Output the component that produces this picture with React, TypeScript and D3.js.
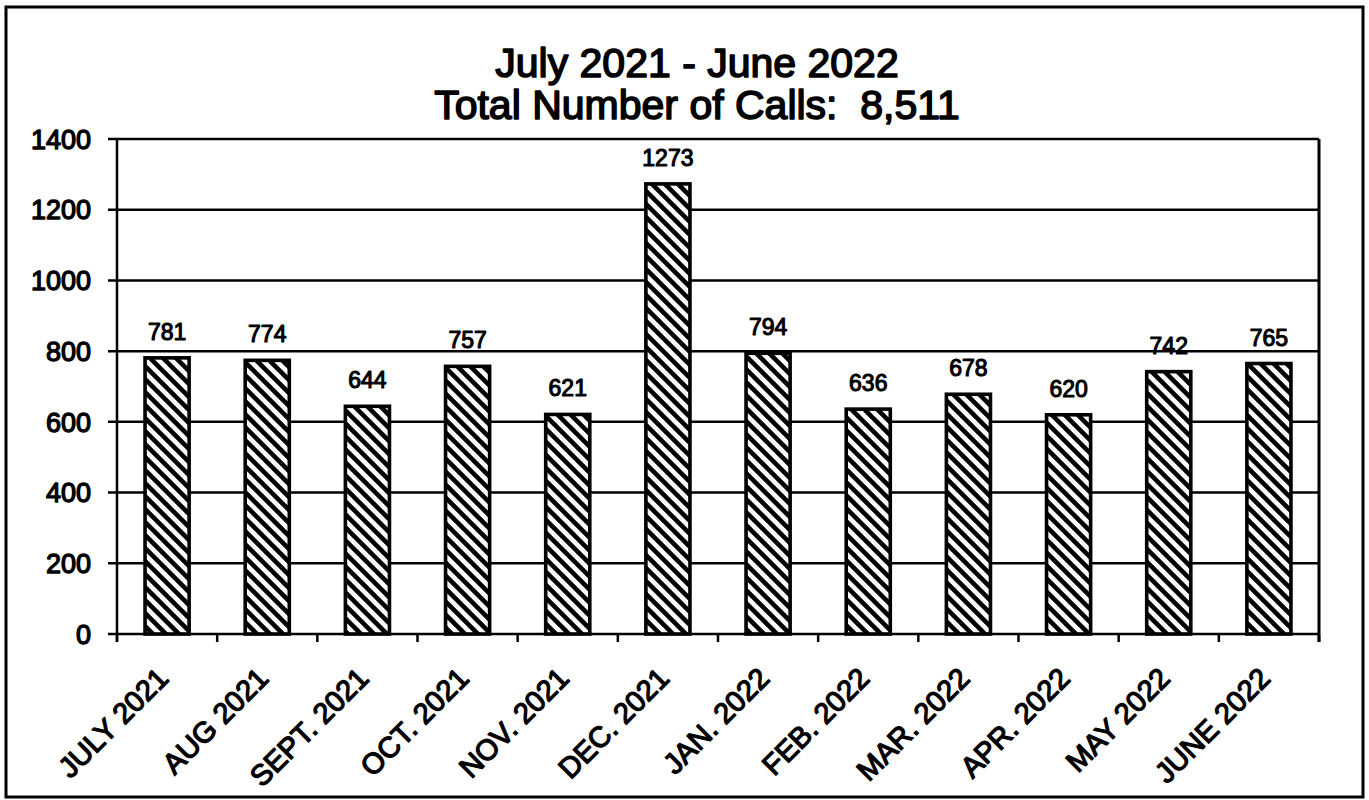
import React from "react";
import * as d3 from "d3";

const categories = [
  "JULY 2021", "AUG 2021", "SEPT. 2021", "OCT. 2021", "NOV. 2021", "DEC. 2021",
  "JAN. 2022", "FEB. 2022", "MAR. 2022", "APR. 2022", "MAY 2022", "JUNE 2022",
];
const values = [781, 774, 644, 757, 621, 1273, 794, 636, 678, 620, 742, 765];
const yTicks = [0, 200, 400, 600, 800, 1000, 1200, 1400];
const titleLines = ["July 2021 - June 2022", "Total Number of Calls:  8,511"];

const W = 1369;
const H = 800;
const plot = { left: 117, right: 1319, top: 139, bottom: 634 };
const FONT = '"Liberation Sans", Arial, Helvetica, sans-serif';

export default function App() {
  const x = d3
    .scaleBand<string>()
    .domain(categories)
    .range([plot.left, plot.right])
    .paddingInner(0.56)
    .paddingOuter(0.28);
  const y = d3.scaleLinear().domain([0, 1400]).range([plot.bottom, plot.top]);

  const boundaries = d3.range(categories.length + 1).map(
    (i) => plot.left + i * ((plot.right - plot.left) / categories.length)
  );

  const textStyle = { fontFamily: FONT, fill: "#000", stroke: "#000", strokeLinejoin: "round" } as const;

  return (
    <svg
      width={W}
      height={H}
      style={{ position: "absolute", left: 0, top: 0, background: "#fff" }}
    >
      <defs>
        <pattern id="hatch" patternUnits="userSpaceOnUse" width={13} height={13}>
          <rect width={13} height={13} fill="#fff" />
          <path
            d="M-3,10 L3,16 M0,0 L13,13 M10,-3 L16,3"
            stroke="#000"
            strokeWidth={4.6}
          />
        </pattern>
      </defs>
      <rect x={0} y={0} width={W} height={H} fill="#fff" />
      {/* outer frame */}
      <rect x={6} y={7} width={1357} height={790} fill="none" stroke="#000" strokeWidth={3} />

      {/* title */}
      {titleLines.map((t, i) => (
        <text
          key={i}
          x={697}
          y={77 + i * 42}
          textAnchor="middle"
          fontSize={41}
          strokeWidth={1.6}
          style={{ ...textStyle, whiteSpace: "pre" }}
        >
          {t}
        </text>
      ))}

      {/* gridlines and y ticks */}
      {yTicks.map((t) => (
        <g key={t}>
          <line
            x1={plot.left - 9}
            x2={plot.right}
            y1={y(t)}
            y2={y(t)}
            stroke="#000"
            strokeWidth={2.5}
          />
          <text
            x={91}
            y={y(t)}
            dy="0.36em"
            textAnchor="end"
            fontSize={27}
            strokeWidth={1.3}
            style={textStyle}
          >
            {t}
          </text>
        </g>
      ))}

      {/* left axis and right border */}
      <line x1={plot.left} x2={plot.left} y1={plot.top} y2={plot.bottom + 8} stroke="#000" strokeWidth={2.5} />
      <line x1={plot.right} x2={plot.right} y1={plot.top} y2={plot.bottom + 8} stroke="#000" strokeWidth={3} />

      {/* x ticks */}
      {boundaries.map((bx, i) => (
        <line key={i} x1={bx} x2={bx} y1={plot.bottom} y2={plot.bottom + 8} stroke="#000" strokeWidth={2.5} />
      ))}

      {/* bars */}
      {categories.map((c, i) => {
        const bx = x(c)!;
        const bw = x.bandwidth();
        const top = y(values[i]);
        return (
          <g key={c}>
            <rect
              x={bx}
              y={top}
              width={bw}
              height={plot.bottom - top}
              fill="url(#hatch)"
              stroke="#000"
              strokeWidth={3.6}
            />
            <text
              x={bx + bw / 2}
              y={top - 18}
              textAnchor="middle"
              fontSize={23}
              strokeWidth={1.1}
              style={textStyle}
            >
              {values[i]}
            </text>
          </g>
        );
      })}

      {/* x labels */}
      {categories.map((c) => {
        const cx = x(c)! + x.bandwidth() / 2;
        return (
          <text
            key={c}
            transform={`translate(${cx + 3},${plot.bottom + 46}) rotate(-45)`}
            textAnchor="end"
            fontSize={29}
            strokeWidth={1.3}
            style={{ ...textStyle, whiteSpace: "pre" }}
          >
            {c}
          </text>
        );
      })}
    </svg>
  );
}
